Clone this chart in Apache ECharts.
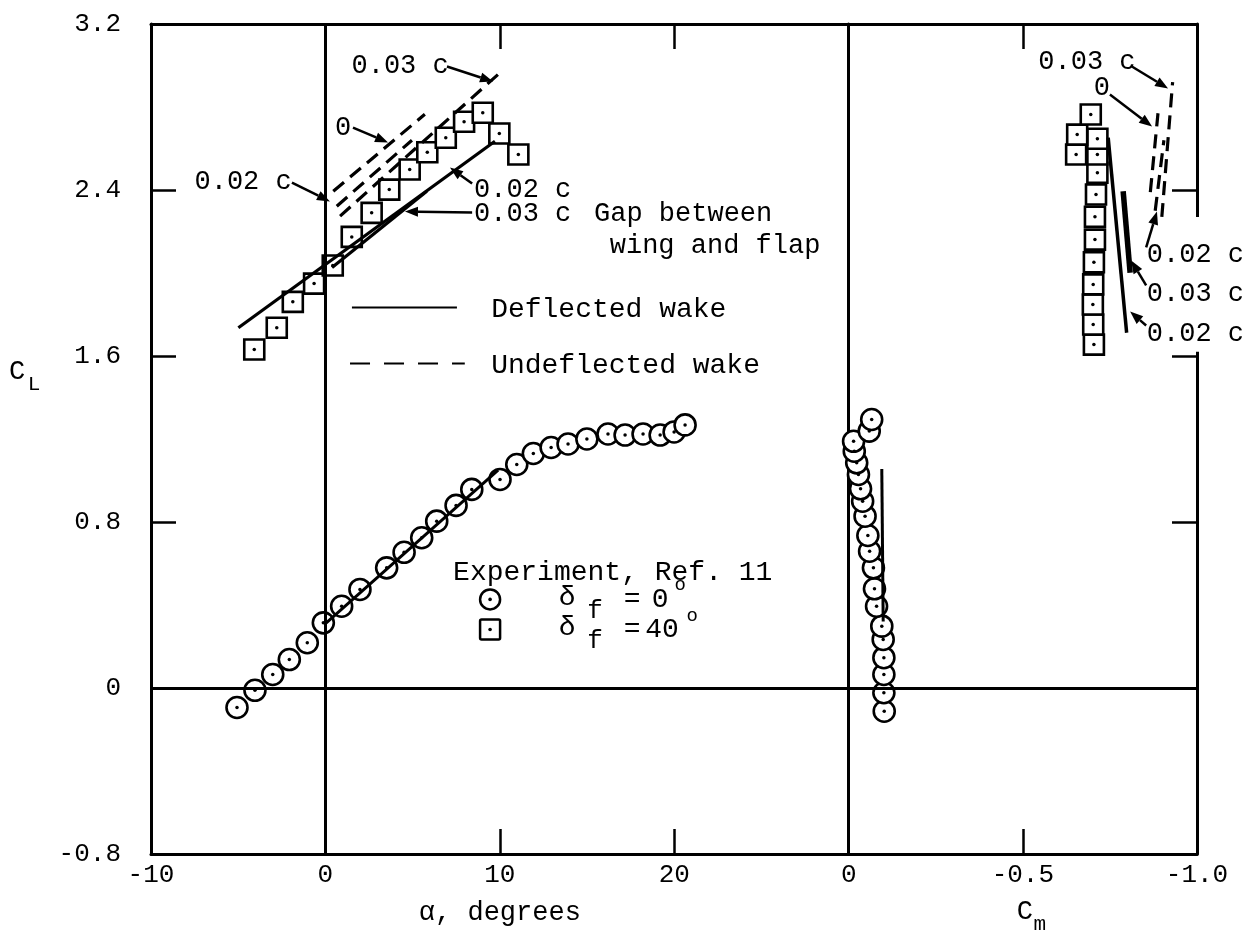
<!DOCTYPE html>
<html>
<head>
<meta charset="utf-8">
<script src="https://cdn.jsdelivr.net/npm/echarts@6/dist/echarts.min.js"></script>
<style>
html, body { margin: 0; padding: 0; background: #fff; }
#chart { width: 1248px; height: 935px; }
</style>
</head>
<body>
<div id="chart"></div>
<script>
// Lift coefficient against angle of attack (left panel) and against
// pitching-moment coefficient (right panel), flap deflections 0 and 40 deg.

// ---- axis ticks ----
const alphaTicks = [-10, 0, 10, 20];
const alphaTickLabels = ['-10', '0', '10', '20'];
const cmTicks = [0, -0.5, -1.0];
const cmTickLabels = ['0', '-0.5', '-1.0'];
const clTicks = [-0.8, 0, 0.8, 1.6, 2.4, 3.2];
const clTickLabels = ['-0.8', '0', '0.8', '1.6', '2.4', '3.2'];

// ---- experiment, Ref. 11, delta_f = 0 deg ----
const expF0Alpha = [-5.07, -4.04, -3.02, -2.07, -1.04, -0.12, 0.93, 1.98, 3.51, 4.51, 5.52, 6.38, 7.49, 8.39,
  10.01, 10.97, 11.92, 12.94, 13.91, 14.99, 16.20, 17.18, 18.21, 19.19, 19.99, 20.62];
const expF0CL = [-0.094, -0.011, 0.065, 0.137, 0.218, 0.314, 0.394, 0.475, 0.579, 0.654, 0.724, 0.804, 0.880, 0.957,
  1.005, 1.077, 1.130, 1.159, 1.176, 1.200, 1.224, 1.219, 1.224, 1.219, 1.234, 1.268];
const expF0Cm = [-0.102, -0.101, -0.101, -0.101, -0.099, -0.095, -0.080, -0.074, -0.071, -0.060,
  -0.055, -0.047, -0.040, -0.034, -0.028, -0.023, -0.016, -0.014, -0.059, -0.066];
const expF0CmCL = [-0.112, -0.023, 0.065, 0.146, 0.234, 0.298, 0.394, 0.478, 0.579, 0.659,
  0.735, 0.828, 0.900, 0.960, 1.029, 1.085, 1.141, 1.189, 1.238, 1.294];

// ---- experiment, Ref. 11, delta_f = 40 deg ----
const expF40Alpha = [-4.08, -2.79, -1.87, -0.65, 0.42, 1.51, 2.65, 3.66, 4.83, 5.84, 6.90, 7.95, 9.02, 9.97, 11.06];
const expF40CL = [1.631, 1.736, 1.861, 1.949, 2.036, 2.174, 2.290, 2.402, 2.499, 2.582, 2.652, 2.729, 2.772, 2.672, 2.571];
const expF40Cm = [-0.704, -0.702, -0.701, -0.702, -0.704, -0.707, -0.707, -0.710, -0.714, -0.714, -0.714, -0.653, -0.656, -0.695];
const expF40CmCL = [1.655, 1.752, 1.848, 1.945, 2.052, 2.161, 2.271, 2.378, 2.483, 2.571, 2.647, 2.571, 2.667, 2.764];

// ---- theory, delta_f = 0 deg, deflected wake ----
const thF0Alpha = [0, 9.9];
const thF0CL = [0.31, 1.05];
const thF0Cm = [-0.099, -0.095];
const thF0CmCL = [0.32, 1.055];

// ---- theory, delta_f = 40 deg, deflected wake (gap 0.02 c, 0.03 c) ----
const thDef002Alpha = [-4.99, 9.72];
const thDef002CL = [1.736, 2.635];
const thDef002Cm = [-0.798, -0.745];
const thDef002CmCL = [1.712, 2.652];
const thDef003Alpha = [0.38, 5.81];
const thDef003CL = [2.027, 2.394];
const thDef003Cm = [-0.808, -0.788];
const thDef003CmCL = [2.001, 2.394];

// ---- theory, delta_f = 40 deg, undeflected wake (gap 0, 0.02 c, 0.03 c) ----
const thUnd0Alpha = [0.45, 5.7];
const thUnd0CL = [2.394, 2.765];
const thUnd0Cm = [-0.866, -0.888];
const thUnd0CmCL = [2.39, 2.77];
const thUnd002Alpha = [0.65, 4.96];
const thUnd002CL = [2.322, 2.64];
const thUnd002Cm = [-0.880, -0.905];
const thUnd002CmCL = [2.30, 2.64];
const thUnd003Alpha = [0.84, 10.11];
const thUnd003CL = [2.274, 2.973];
const thUnd003Cm = [-0.899, -0.930];
const thUnd003CmCL = [2.27, 2.92];

const FONT = '"Liberation Mono", "DejaVu Sans Mono", monospace';
const INK = '#000';

const zip = (xs, ys) => xs.map((x, i) => [x, ys[i]]);
const pick = (ticks, labels) => v => {
  const i = ticks.findIndex(t => Math.abs(t - v) < 1e-6);
  return i < 0 ? '' : labels[i];
};

const tickStyle = { show: true, inside: true, length: 25, lineStyle: { color: INK, width: 2.5 } };
const lineAxis = { show: true, onZero: false, lineStyle: { color: INK, width: 3 } };
const labelStyle = { color: INK, fontFamily: FONT, fontSize: 26 };

function xAxisDef(grid, pos, min, max, interval, inverse, formatter) {
  return {
    gridIndex: grid, type: 'value', position: pos, min, max, interval, inverse,
    axisLine: lineAxis, axisTick: tickStyle, splitLine: { show: false },
    axisLabel: formatter ? Object.assign({ margin: 8, formatter }, labelStyle) : { show: false }
  };
}

function lineSeries(name, xi, yi, xs, ys, dashed, width, extra) {
  return Object.assign({
    name, type: 'line', xAxisIndex: xi, yAxisIndex: yi, data: zip(xs, ys),
    symbol: 'none', silent: true, z: 5,
    lineStyle: { color: INK, width: width, type: dashed ? [14, 8] : 'solid', cap: 'butt', opacity: 1 }
  }, extra || {});
}

function markerSeries(name, xi, yi, xs, ys, symbol, size) {
  return [{
    name, type: 'scatter', xAxisIndex: xi, yAxisIndex: yi, data: zip(xs, ys),
    symbol, symbolSize: size, silent: true, z: 3,
    itemStyle: { color: '#fff', borderColor: INK, borderWidth: 2.6, opacity: 1 }
  }, {
    name: name + ' centre', type: 'scatter', xAxisIndex: xi, yAxisIndex: yi, data: zip(xs, ys),
    symbol: 'circle', symbolSize: 3.5, silent: true, z: 6,
    itemStyle: { color: INK, opacity: 1 }
  }];
}

const refLine = (data) => ({
  silent: true, symbol: ['none', 'none'], label: { show: false },
  lineStyle: { color: INK, width: 3, type: 'solid', opacity: 1 }, data
});

const option = {
  animation: false,
  backgroundColor: '#fff',
  textStyle: { fontFamily: FONT },
  grid: [
    { left: 151, top: 24, width: 697.7, height: 830 },
    { left: 848.7, top: 24, width: 348.3, height: 830 }
  ],
  xAxis: [
    xAxisDef(0, 'bottom', -10, 30, 10, false, pick(alphaTicks, alphaTickLabels)),
    xAxisDef(0, 'top', -10, 30, 10, false, null),
    xAxisDef(1, 'bottom', -1.0, 0, 0.5, true, pick(cmTicks, cmTickLabels)),
    xAxisDef(1, 'top', -1.0, 0, 0.5, true, null)
  ],
  yAxis: [
    {
      gridIndex: 0, type: 'value', position: 'left', min: -0.8, max: 3.2, interval: 0.8,
      axisLine: lineAxis, axisTick: tickStyle, splitLine: { show: false },
      axisLabel: Object.assign({ margin: 30, formatter: pick(clTicks, clTickLabels) }, labelStyle)
    },
    {
      gridIndex: 1, type: 'value', position: 'left', min: -0.8, max: 3.2, interval: 0.8,
      axisLine: lineAxis, axisTick: { show: false }, axisLabel: { show: false }, splitLine: { show: false }
    },
    {
      gridIndex: 1, type: 'value', position: 'right', min: -0.8, max: 3.2, interval: 0.8,
      axisLine: lineAxis, axisTick: tickStyle, axisLabel: { show: false }, splitLine: { show: false }
    }
  ],
  series: [
    // left panel: CL vs alpha
    ...markerSeries('delta_f = 0, CL', 0, 0, expF0Alpha, expF0CL, 'circle', 21),
    ...markerSeries('delta_f = 40, CL', 0, 0, expF40Alpha, expF40CL, 'rect', 20),
    lineSeries('theory 0 deg', 0, 0, thF0Alpha, thF0CL, false, 3, {
      markLine: refLine([{ xAxis: 0 }, { yAxis: 0 }])
    }),
    lineSeries('deflected 0.02c', 0, 0, thDef002Alpha, thDef002CL, false, 3.2),
    lineSeries('deflected 0.03c', 0, 0, thDef003Alpha, thDef003CL, false, 3.2),
    lineSeries('undeflected 0', 0, 0, thUnd0Alpha, thUnd0CL, true, 3.2),
    lineSeries('undeflected 0.02c', 0, 0, thUnd002Alpha, thUnd002CL, true, 3.2),
    lineSeries('undeflected 0.03c', 0, 0, thUnd003Alpha, thUnd003CL, true, 3.2),
    // right panel: CL vs Cm
    ...markerSeries('delta_f = 0, Cm', 2, 1, expF0Cm, expF0CmCL, 'circle', 21),
    ...markerSeries('delta_f = 40, Cm', 2, 1, expF40Cm, expF40CmCL, 'rect', 20),
    lineSeries('theory 0 deg Cm', 2, 1, thF0Cm, thF0CmCL, false, 3, {
      markLine: refLine([{ yAxis: 0 }])
    }),
    lineSeries('deflected 0.02c Cm', 2, 1, thDef002Cm, thDef002CmCL, false, 3.5),
    lineSeries('deflected 0.03c Cm', 2, 1, thDef003Cm, thDef003CmCL, false, 5.5),
    lineSeries('undeflected 0 Cm', 2, 1, thUnd0Cm, thUnd0CmCL, true, 3.2),
    lineSeries('undeflected 0.02c Cm', 2, 1, thUnd002Cm, thUnd002CmCL, true, 3.2),
    lineSeries('undeflected 0.03c Cm', 2, 1, thUnd003Cm, thUnd003CmCL, true, 3.2)
  ]
};

const chart = echarts.init(document.getElementById('chart'), null, { renderer: 'canvas' });
chart.setOption(option);

// ---- annotations: labels with leader arrows, placed in data coordinates ----
const LEFT = { seriesIndex: 0 };
const RIGHT = { seriesIndex: 13 };
const px = (finder, p) => chart.convertToPixel(finder, p);

const notes = [
  { g: LEFT, text: '0.03 c', at: [4.28, 3.0], align: 'center', from: [6.97, 2.995], to: [9.61, 2.923] },
  { g: LEFT, text: '0', at: [1.01, 2.701], align: 'center', from: [1.58, 2.701], to: [3.59, 2.629] },
  { g: LEFT, text: '0.02 c', at: [-4.72, 2.441], align: 'center', from: [-1.92, 2.436], to: [0.26, 2.345] },
  { g: LEFT, text: '0.02 c', at: [8.52, 2.402], align: 'left', from: [8.41, 2.431], to: [7.14, 2.508] },
  { g: LEFT, text: '0.03 c', at: [8.52, 2.287], align: 'left', from: [8.41, 2.292], to: [4.56, 2.296] },
  { g: LEFT, text: 'Gap between', at: [15.4, 2.287], align: 'left' },
  { g: LEFT, text: 'wing and flap', at: [16.3, 2.133], align: 'left' },
  { g: RIGHT, text: '0.03 c', at: [-0.684, 3.019], align: 'center', from: [-0.813, 2.995], to: [-0.917, 2.889] },
  { g: RIGHT, text: '0', at: [-0.727, 2.894], align: 'center', from: [-0.750, 2.860], to: [-0.871, 2.706] },
  { g: RIGHT, text: '0.02 c', at: [-0.856, 2.089], align: 'left', from: [-0.854, 2.123], to: [-0.885, 2.296] },
  { g: RIGHT, text: '0.03 c', at: [-0.856, 1.901], align: 'left', from: [-0.854, 1.940], to: [-0.811, 2.060] },
  { g: RIGHT, text: '0.02 c', at: [-0.856, 1.708], align: 'left', from: [-0.854, 1.747], to: [-0.808, 1.814] }
];

function text(x, y, str, size, align) {
  return {
    type: 'text', x, y, z: 100, silent: true,
    style: { text: str, fill: INK, fontFamily: FONT, fontSize: size, align: align || 'left', verticalAlign: 'middle' }
  };
}

function arrow(p0, p1) {
  const dx = p1[0] - p0[0], dy = p1[1] - p0[1];
  const len = Math.hypot(dx, dy), ux = dx / len, uy = dy / len;
  const hl = 13, hw = 5;
  const bx = p1[0] - ux * hl, by = p1[1] - uy * hl;
  return [
    { type: 'line', z: 100, silent: true, shape: { x1: p0[0], y1: p0[1], x2: bx, y2: by },
      style: { stroke: INK, lineWidth: 2.5 } },
    { type: 'polygon', z: 100, silent: true,
      shape: { points: [[p1[0], p1[1]], [bx - uy * hw, by + ux * hw], [bx + uy * hw, by - ux * hw]] },
      style: { fill: INK } }
  ];
}

const elements = [];

// the gap labels on the right run across the frame; clear the frame behind them
const gapTop = px(RIGHT, [-1.0, 2.27]);
const gapBot = px(RIGHT, [-1.0, 1.62]);
elements.push({ type: 'rect', z: 90, silent: true,
  shape: { x: gapTop[0] - 8, y: gapTop[1], width: 16, height: gapBot[1] - gapTop[1] },
  style: { fill: '#fff' } });

notes.forEach(n => {
  const p = px(n.g, n.at);
  elements.push(text(p[0], p[1], n.text, 27, n.align));
  if (n.from) elements.push(...arrow(px(n.g, n.from), px(n.g, n.to)));
});

// key for the theory curves
const solidA = px(LEFT, [1.52, 1.834]), solidB = px(LEFT, [7.54, 1.834]);
elements.push({ type: 'line', z: 100, silent: true,
  shape: { x1: solidA[0], y1: solidA[1], x2: solidB[0], y2: solidB[1] },
  style: { stroke: INK, lineWidth: 2 } });
let p = px(LEFT, [9.5, 1.824]);
elements.push(text(p[0], p[1], 'Deflected wake', 28));
const dashA = px(LEFT, [1.41, 1.564]), dashB = px(LEFT, [7.99, 1.564]);
elements.push({ type: 'line', z: 100, silent: true,
  shape: { x1: dashA[0], y1: dashA[1], x2: dashB[0], y2: dashB[1] },
  style: { stroke: INK, lineWidth: 2, lineDash: [20, 14] } });
p = px(LEFT, [9.5, 1.554]);
elements.push(text(p[0], p[1], 'Undeflected wake', 28));

// key for the experiment symbols
p = px(LEFT, [7.32, 0.557]);
elements.push(text(p[0], p[1], 'Experiment, Ref. 11', 28));

function deltaLabel(base, value, valueCx, supCx) {
  const y = base[1];
  return [
    text(base[0] + 77, y - 2, 'δ', 28, 'center'),
    text(base[0] + 105, y + 12, 'f', 26, 'center'),
    text(base[0] + 142, y, '=', 28, 'center'),
    text(base[0] + valueCx, y, value, 28, 'center'),
    text(base[0] + supCx, y - 14, 'o', 19, 'center')
  ];
}

const circ = px(LEFT, [9.44, 0.427]);
elements.push({ type: 'circle', z: 100, silent: true, shape: { cx: circ[0], cy: circ[1], r: 10 },
  style: { fill: '#fff', stroke: INK, lineWidth: 2.5 } });
elements.push({ type: 'circle', z: 101, silent: true, shape: { cx: circ[0], cy: circ[1], r: 1.8 },
  style: { fill: INK } });
elements.push(...deltaLabel(circ, '0', 170, 190));

const sq = px(LEFT, [9.44, 0.282]);
elements.push({ type: 'rect', z: 100, silent: true, shape: { x: sq[0] - 10, y: sq[1] - 10, width: 20, height: 20, r: 1.5 },
  style: { fill: '#fff', stroke: INK, lineWidth: 2.5 } });
elements.push({ type: 'circle', z: 101, silent: true, shape: { cx: sq[0], cy: sq[1], r: 1.8 },
  style: { fill: INK } });
elements.push(...deltaLabel(sq, '40', 172, 202));

// axis titles
elements.push(text(17, 372, 'C', 27, 'center'));
elements.push(text(34, 384, 'L', 21, 'center'));
const aMid = px(LEFT, [10, -0.8]);
elements.push(text(aMid[0], 913, 'α, degrees', 27, 'center'));
const cMid = px(RIGHT, [-0.5, -0.8]);
elements.push(text(cMid[0] + 2, 912, 'C', 27, 'center'));
elements.push(text(cMid[0] + 17, 924, 'm', 21, 'center'));

chart.setOption({ graphic: elements });
</script>
</body>
</html>
